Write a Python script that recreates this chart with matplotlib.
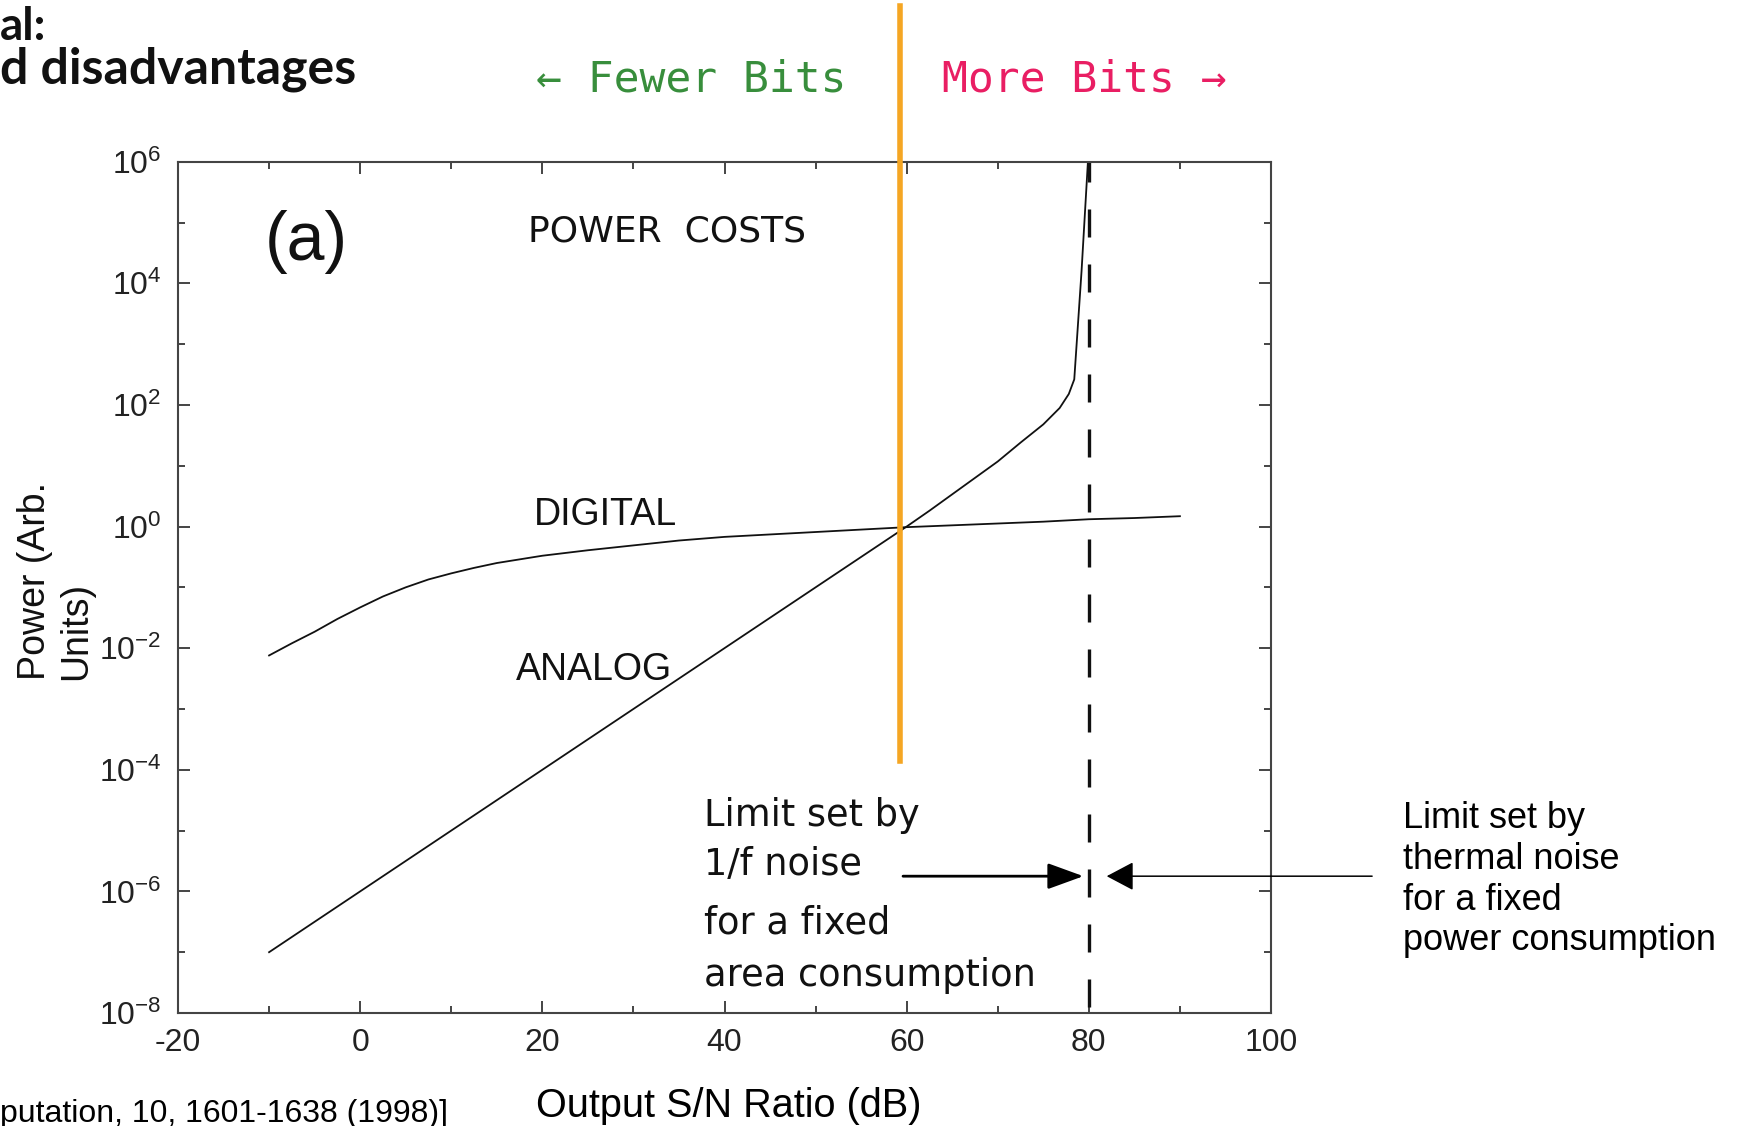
import numpy as np
import matplotlib.pyplot as plt
from matplotlib.ticker import NullFormatter

plt.rcParams['font.family'] = ['Liberation Sans', 'DejaVu Sans']
plt.rcParams['mathtext.fontset'] = 'custom'
plt.rcParams['mathtext.rm'] = 'Liberation Sans'
plt.rcParams['mathtext.default'] = 'regular'

# curves (power as log10 exponent)
digital_snr = [-10, -7.5, -5, -2.5, 0, 2.5, 5, 7.5, 10, 12.5, 15, 20, 25, 30, 35, 40,
               50, 60, 70, 75, 80, 85, 90]
digital_log = [-2.12, -1.92, -1.73, -1.52, -1.33, -1.15, -1.0, -0.87, -0.77, -0.68,
               -0.60, -0.48, -0.39, -0.31, -0.23, -0.17, -0.09, -0.01, 0.05, 0.08,
               0.12, 0.14, 0.17]
analog_snr = [-10, 0, 10, 20, 30, 40, 50, 60, 62.5, 65, 67.5, 70, 72.5, 75, 76.8,
              77.8, 78.4, 79.2, 79.9]
analog_log = [-7.0, -6.0, -5.0, -4.0, -3.0, -2.0, -1.0, 0.0, 0.26, 0.53, 0.8, 1.07,
              1.38, 1.68, 1.95, 2.18, 2.42, 4.2, 6.0]

thermal_limit = 80      # dashed line
crossover = 59.25       # orange divider
arrow_level = -5.75     # log10 power of the two arrows

x_ticks = [-20, 0, 20, 40, 60, 80, 100]
x_tick_labels = ['-20', '0', '20', '40', '60', '80', '100']
x_minor = [-10, 10, 30, 50, 70, 90]
y_exps = [-8, -6, -4, -2, 0, 2, 4, 6]
y_minor_exps = [-7, -5, -3, -1, 1, 3, 5]
y_tick_labels = ['$10^{%d}$' % e for e in y_exps]

W, H = 1737, 1126
fig = plt.figure(figsize=(W / 100, H / 100), dpi=100)
ax = fig.add_axes([178 / W, 1 - 1013 / H, 1093 / W, 851.3 / H])
ax.set_yscale('log')
ax.set_xlim(-20, 100)
ax.set_ylim(1e-8, 1e6)

ax.plot(digital_snr, np.power(10.0, digital_log), color='#111111', lw=1.3)
ax.plot(analog_snr, np.power(10.0, analog_log), color='#111111', lw=1.3)
ax.axvline(thermal_limit, color='#111111', lw=2.4, ls=(14.7, (8.4, 8.1)))

# ticks
ax.set_xticks(x_ticks, x_tick_labels)
ax.set_xticks(x_minor, minor=True)
ax.set_yticks([10.0 ** e for e in y_exps], y_tick_labels)
ax.set_yticks([10.0 ** e for e in y_minor_exps], minor=True)
ax.yaxis.set_minor_formatter(NullFormatter())
ax.xaxis.set_minor_formatter(NullFormatter())
ax.tick_params(which='both', direction='in', top=True, right=True,
               colors='#444444', labelcolor='#222222', labelsize=23, width=1.4)
ax.tick_params(which='major', length=8.6)
ax.tick_params(which='minor', length=5)
ax.tick_params(axis='y', pad=12)
ax.tick_params(axis='x', pad=11)
for s in ax.spines.values():
    s.set_color('#444444')
    s.set_linewidth(1.5)

# labels inside the plot
ax.text(-10.43, 10 ** 4.39, '(a)', fontsize=49, color='#111111')
ax.text(18.4, 10 ** 4.69, 'POWER  COSTS', family='DejaVu Sans', fontsize=26, color='#111111')
ax.text(19.05, 10 ** 0.03, 'DIGITAL', fontsize=27, color='#111111')
ax.text(17.07, 10 ** -2.52, 'ANALOG', fontsize=27, color='#111111')
flicker_lines = ['Limit set by', '1/f noise', 'for a fixed', 'area consumption']
flicker_base = [-4.93, -5.73, -6.69, -7.55]
for t, b in zip(flicker_lines, flicker_base):
    ax.text(37.75, 10 ** b, t, family='DejaVu Sans', fontsize=26.5, color='#111111',
            va='baseline')

ax.annotate('', xy=(79.4, 10 ** arrow_level), xytext=(59.6, 10 ** arrow_level),
            arrowprops=dict(arrowstyle='-|>,head_length=1.1,head_width=0.4',
                            color='black', lw=2, shrinkA=0, shrinkB=0,
                            mutation_scale=20))
ax.annotate('', xy=(81.96, 10 ** arrow_level), xytext=(111.1, 10 ** arrow_level),
            arrowprops=dict(arrowstyle='-|>,head_length=0.85,head_width=0.45',
                            color='black', lw=1.1, shrinkA=0, shrinkB=0,
                            mutation_scale=20),
            annotation_clip=False)

# orange divider runs up past the axes
ax.axvline(crossover, ymin=0.296, ymax=1.183, color='#F5A623', lw=4,
           clip_on=False, zorder=5)

# figure texts
fig.text(0, 1 - 40 / H, 'al:', family='Lato', fontweight='bold', fontsize=33,
         va='baseline', color='#111111')
fig.text(0, 1 - 84 / H, 'd disadvantages', family='Lato', fontweight='bold',
         fontsize=36, va='baseline', color='#111111')
fig.text(536 / W, 1 - 92 / H, '← Fewer Bits', family='DejaVu Sans Mono',
         fontsize=31, color='#388E3C', va='baseline')
fig.text(942 / W, 1 - 92 / H, 'More Bits →', family='DejaVu Sans Mono',
         fontsize=31, color='#E91E63', va='baseline')

thermal_lines = ['Limit set by', 'thermal noise', 'for a fixed', 'power consumption']
thermal_base = [828, 869, 910, 950]
for t, b in zip(thermal_lines, thermal_base):
    fig.text(1403 / W, 1 - b / H, t, fontsize=26, va='baseline', color='black')

fig.text(729 / W, 9 / H, 'Output S/N Ratio (dB)', fontsize=28.5, ha='center',
         va='baseline', color='black')
fig.text(17 / W, 1 - 680 / H, 'Power (Arb.\nUnits)', fontsize=27, rotation=90,
         ha='left', va='bottom', multialignment='left', color='#111111')
fig.text(0, 1 - 1122 / H, 'putation, 10, 1601-1638 (1998)]', fontsize=23,
         va='baseline', color='black')

fig.savefig('out.png', dpi=100)
